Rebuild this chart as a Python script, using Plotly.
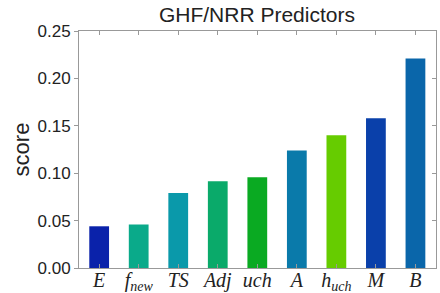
import plotly.graph_objects as go

categories = ["E", "f_new", "TS", "Adj", "uch", "A", "h_uch", "M", "B"]
tick_labels = ["<i>E</i>", "<i>f</i><sub><i>new</i></sub>", "<i>TS</i>", "<i>Adj</i>", "<i>uch</i>",
               "<i>A</i>", "<i>h</i><sub><i>uch</i></sub>", "<i>M</i>", "<i>B</i>"]
scores = [0.044, 0.046, 0.079, 0.0915, 0.0957, 0.124, 0.140, 0.158, 0.221]
colors = ["#0a22aa", "#0aaa8a", "#0a99aa", "#0aaa6a", "#0aaa22", "#0a7aaa", "#66cc00", "#0a40aa", "#0a66aa"]
y_ticks = [0, 0.05, 0.10, 0.15, 0.20, 0.25]
y_tick_text = ["0.00", "0.05", "0.10", "0.15", "0.20", "0.25"]

fig = go.Figure()
fig.add_trace(go.Bar(x=categories, y=scores, marker=dict(color=colors, line=dict(width=0)),
                     width=0.5, showlegend=False, hoverinfo="skip"))
fig.add_trace(go.Scatter(x=categories, y=scores, xaxis="x2", yaxis="y2", mode="markers",
                         marker=dict(opacity=0), showlegend=False, hoverinfo="skip"))

axis_col = "#999999"
txt = "#222222"
fig.update_layout(
    width=440, height=293,
    margin=dict(l=79, r=4, t=31, b=25, autoexpand=False),
    paper_bgcolor="white", plot_bgcolor="white",
    title=dict(text="GHF/NRR Predictors", x=0.584, xanchor="center", y=0.975, yanchor="top",
               font=dict(family="Liberation Sans, Arial, sans-serif", size=21, color=txt)),
    font=dict(family="Liberation Sans, Arial, sans-serif", color=txt),
    xaxis=dict(range=[-0.51, 8.52], tickmode="array", tickvals=categories, ticktext=tick_labels,
               tickfont=dict(family="Liberation Serif, Times New Roman, serif", size=20, color=txt),
               ticks="inside", ticklen=4, tickcolor=axis_col, showline=True, linecolor=axis_col,
               linewidth=1, mirror=True, showgrid=False, zeroline=False, automargin=False,
               ticklabelstandoff=-6),
    yaxis=dict(range=[0, 0.25], tickvals=y_ticks, ticktext=y_tick_text,
               tickfont=dict(size=17, color=txt), ticks="outside", ticklen=4,
               tickcolor=axis_col, showline=True, linecolor=axis_col, linewidth=1, mirror=True,
               showgrid=False, zeroline=False, automargin=False),
    xaxis2=dict(overlaying="x", side="top", anchor="y", range=[-0.51, 8.52], tickmode="array",
                tickvals=categories, showticklabels=False, ticks="inside", ticklen=4,
                tickcolor=axis_col, showline=True, linecolor=axis_col, showgrid=False,
                zeroline=False, automargin=False),
    yaxis2=dict(overlaying="y", side="right", anchor="x", range=[0, 0.25],
                tickvals=y_ticks, showticklabels=False,
                ticks="inside", ticklen=4, tickcolor=axis_col, showline=True, linecolor=axis_col,
                showgrid=False, zeroline=False, automargin=False),
    annotations=[dict(text="score", xref="paper", yref="paper", x=-0.16, y=0.5,
                      xanchor="center", yanchor="middle", textangle=-90, showarrow=False,
                      font=dict(size=22, color=txt))],
)
fig.write_html("out.html", config={"displayModeBar": False},
               post_script="document.body.style.margin='0';document.body.style.padding='0';")
